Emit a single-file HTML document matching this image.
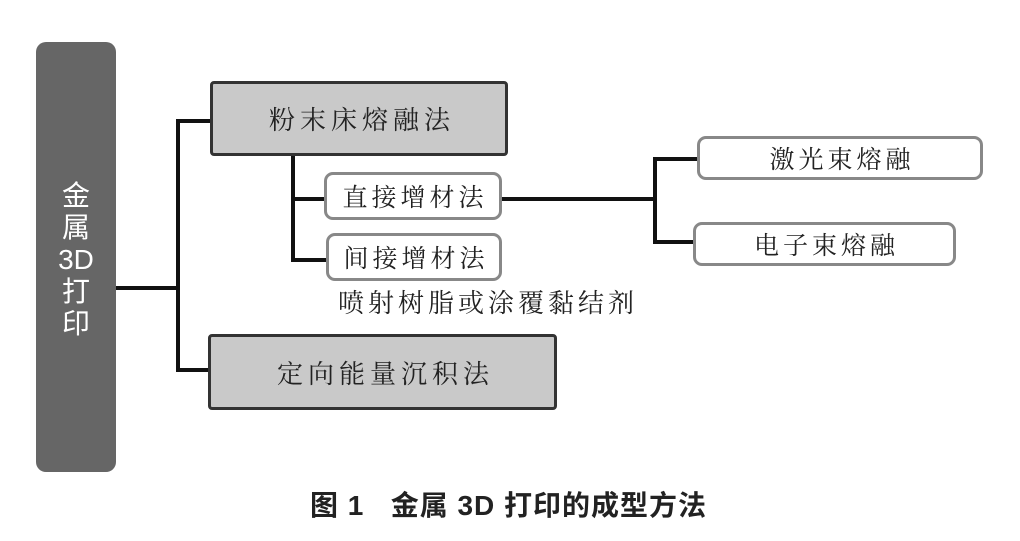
<!DOCTYPE html>
<html><head><meta charset="utf-8"><style>
body{margin:0;width:1020px;height:541px;background:#fff;position:relative;overflow:hidden;font-family:"Noto Serif CJK SC","Liberation Serif",serif;}
.b{position:absolute;box-sizing:border-box;display:flex;align-items:center;justify-content:center;color:#222;}
.g{background:#c9c9c9;border:3px solid #333;border-radius:4px;font-size:26px;letter-spacing:5px;}
.w{background:#fff;border:3px solid #888;border-radius:9px;font-size:25px;letter-spacing:4px;}
</style></head><body>
<svg width="1020" height="541" style="position:absolute;left:0;top:0">
<g stroke="#111" stroke-width="4" fill="none">
<path d="M115 288H178M178 119V371M176 121H211M176 370H209"/>
<path d="M293 155V261M291 199H325M291 260H327"/>
<path d="M501 199H655M655 157V244M653 159H698M653 242H694"/>
</g></svg>
<div class="b" style="left:36px;top:42px;width:80px;height:430px;background:#666;border-radius:10px;color:#fff;font-family:'Liberation Sans','Noto Sans CJK SC',sans-serif;font-size:28px;line-height:32px;flex-direction:column;text-align:center;padding-top:6px">金<br>属<br>3D<br>打<br>印</div>
<div class="b g" style="left:210px;top:81px;width:298px;height:75px;padding-left:6px">粉末床熔融法</div>
<div class="b w" style="left:324px;top:172px;width:178px;height:48px;padding-left:4px">直接增材法</div>
<div class="b w" style="left:326px;top:233px;width:176px;height:48px;padding-left:4px">间接增材法</div>
<div class="b w" style="left:697px;top:136px;width:286px;height:44px;padding-left:4px">激光束熔融</div>
<div class="b w" style="left:693px;top:222px;width:263px;height:44px;padding-left:4px">电子束熔融</div>
<div style="position:absolute;left:338px;top:283px;font-size:26px;letter-spacing:4px;color:#222">喷射树脂或涂覆黏结剂</div>
<div class="b g" style="left:208px;top:334px;width:349px;height:76px;padding-left:6px">定向能量沉积法</div>
<div style="position:absolute;left:310px;top:484px;font-family:'Liberation Sans','Noto Sans CJK SC',sans-serif;font-size:28px;font-weight:bold;letter-spacing:1px;color:#222;white-space:pre">图 1   金属 3D 打印的成型方法</div>
</body></html>
